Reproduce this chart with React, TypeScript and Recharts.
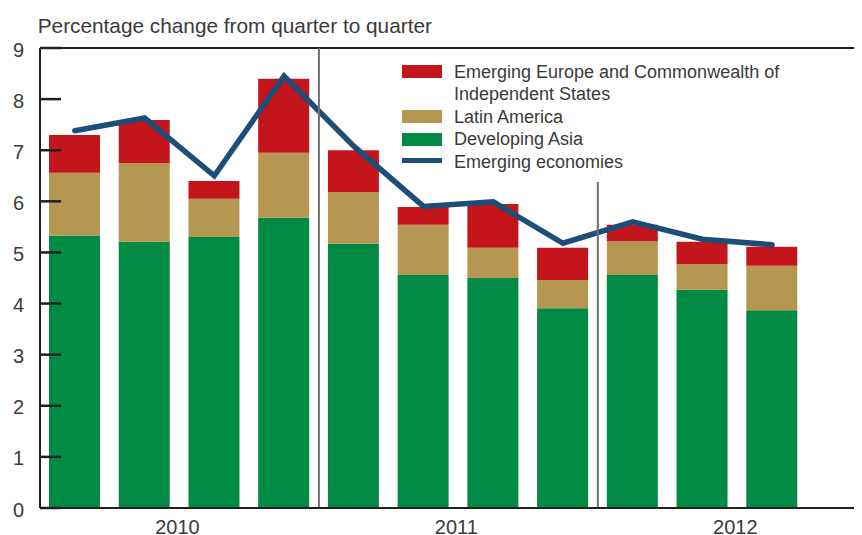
import React from "react";
import {
  ComposedChart,
  Bar,
  Line,
  XAxis,
  YAxis,
  ReferenceLine,
  Legend,
} from "recharts";

// ---- data ----
const quarters = [
  "2010Q1", "2010Q2", "2010Q3", "2010Q4",
  "2011Q1", "2011Q2", "2011Q3", "2011Q4",
  "2012Q1", "2012Q2", "2012Q3",
];
const developingAsia = [5.33, 5.21, 5.3, 5.68, 5.17, 4.56, 4.5, 3.91, 4.56, 4.27, 3.87];
const latinAmerica = [1.23, 1.54, 0.75, 1.27, 1.01, 0.98, 0.59, 0.55, 0.66, 0.5, 0.87];
const emergingEurope = [0.74, 0.84, 0.35, 1.45, 0.82, 0.35, 0.86, 0.63, 0.32, 0.44, 0.37];
const emergingEconomies = [7.38, 7.63, 6.5, 8.45, 7.08, 5.9, 5.99, 5.18, 5.6, 5.26, 5.15];
const yTicks = [0, 1, 2, 3, 4, 5, 6, 7, 8, 9];
// year labels sit between the 2nd and 3rd quarter of each year
const yearTickQuarters = ["2010Q2", "2011Q2", "2012Q2"];
const yearLabels = ["2010", "2011", "2012"];
// separators at the end of the last quarter of each year
const separatorQuarters = ["2010Q4", "2011Q4"];

const data = quarters.map((q, i) => ({
  q,
  asia: developingAsia[i],
  latam: latinAmerica[i],
  europe: emergingEurope[i],
  total: emergingEconomies[i],
}));

const COLORS = {
  europe: "#C4141C",
  latam: "#B59752",
  asia: "#008A43",
  line: "#1C4E79",
  axis: "#231F20",
  sep: "#6E6E6E",
  text: "#3A3A3A",
};

const FONT = "'Liberation Sans', Arial, Helvetica, sans-serif";
const PLOT_RIGHT_PAD = 55;
const HALF_BAND = (822 - PLOT_RIGHT_PAD) / quarters.length / 2;

const legendItems = [
  { key: "europe", lines: ["Emerging Europe and Commonwealth of", "Independent States"], color: COLORS.europe, type: "rect" },
  { key: "latam", lines: ["Latin America"], color: COLORS.latam, type: "rect" },
  { key: "asia", lines: ["Developing Asia"], color: COLORS.asia, type: "rect" },
  { key: "total", lines: ["Emerging economies"], color: COLORS.line, type: "line" },
];

const LINE_H = 22.5;

const LegendContent = () => (
  <div style={{ fontFamily: FONT, fontSize: 18, color: COLORS.text, lineHeight: `${LINE_H}px` }}>
    {legendItems.map((it) => (
      <div key={it.key} style={{ position: "relative", paddingLeft: 52, whiteSpace: "nowrap" }}>
        <div
          style={{
            position: "absolute",
            left: 0,
            top: it.type === "line" ? 7.5 : 4.3,
            width: 40,
            height: it.type === "line" ? 5 : 13,
            background: it.color,
          }}
        />
        {it.lines.map((l, j) => (
          <div key={j}>{l}</div>
        ))}
      </div>
    ))}
  </div>
);

const YTick = (props: any) => {
  const { x, y, payload } = props;
  return (
    <g>
      <line x1={x} x2={x + 21} y1={y} y2={y} stroke={COLORS.axis} strokeWidth={2.5} />
      <text x={x - 16} y={y} dy={8.5} textAnchor="end" fontSize={20} fontFamily={FONT} fill={COLORS.text}>
        {payload.value}
      </text>
    </g>
  );
};

const XTick = (props: any) => {
  const { x, y, payload } = props;
  const idx = yearTickQuarters.indexOf(payload.value);
  if (idx < 0) return null;
  return (
    <text x={x + HALF_BAND - 2} y={y} dy={25.5} textAnchor="middle" fontSize={20} fontFamily={FONT} fill={COLORS.text}>
      {yearLabels[idx]}
    </text>
  );
};

export default function App() {
  return (
    <div style={{ position: "relative", width: 854, height: 527 }}>
      <div
        style={{
          position: "absolute",
          left: 29.7,
          top: 7.2,
          fontFamily: FONT,
          fontSize: 20.8,
          lineHeight: "21px",
          color: COLORS.text,
          whiteSpace: "nowrap",
        }}
      >
        Percentage change from quarter to quarter
      </div>
      <ComposedChart
        width={854}
        height={527}
        data={data}
        margin={{ top: 40, right: 0, bottom: 0, left: 0 }}
        barSize={51}
      >
        <XAxis
          dataKey="q"
          padding={{ left: 0, right: PLOT_RIGHT_PAD }}
          ticks={yearTickQuarters}
          interval={0}
          height={27}
          tickLine={false}
          tickSize={0}
          tickMargin={0}
          tick={<XTick />}
          axisLine={{ stroke: COLORS.axis, strokeWidth: 2 }}
        />
        <YAxis
          width={32}
          domain={[0, 9]}
          ticks={yTicks}
          interval={0}
          tickLine={false}
          tickSize={0}
          tickMargin={0}
          tick={<YTick />}
          axisLine={{ stroke: COLORS.axis, strokeWidth: 2 }}
          allowDataOverflow
        />
        <Legend
          layout="horizontal"
          verticalAlign="middle"
          align="center"
          content={<LegendContent />}
          wrapperStyle={{ left: 394, top: 52.8, width: "auto" }}
        />
        <Bar dataKey="asia" stackId="s" fill={COLORS.asia} isAnimationActive={false} />
        <Bar dataKey="latam" stackId="s" fill={COLORS.latam} isAnimationActive={false} />
        <Bar dataKey="europe" stackId="s" fill={COLORS.europe} isAnimationActive={false} />
        <Line
          dataKey="total"
          stroke={COLORS.line}
          strokeWidth={5.5}
          dot={false}
          activeDot={false}
          strokeLinecap="round"
          type="linear"
          isAnimationActive={false}
        />
        <ReferenceLine y={9} stroke={COLORS.axis} strokeWidth={2} />
        <ReferenceLine x={separatorQuarters[0]} position="end" stroke={COLORS.sep} strokeWidth={2} />
        <ReferenceLine
          position="end"
          segment={[
            { x: separatorQuarters[1], y: 6.38 },
            { x: separatorQuarters[1], y: 0 },
          ]}
          stroke={COLORS.sep}
          strokeWidth={2}
        />
      </ComposedChart>
    </div>
  );
}
